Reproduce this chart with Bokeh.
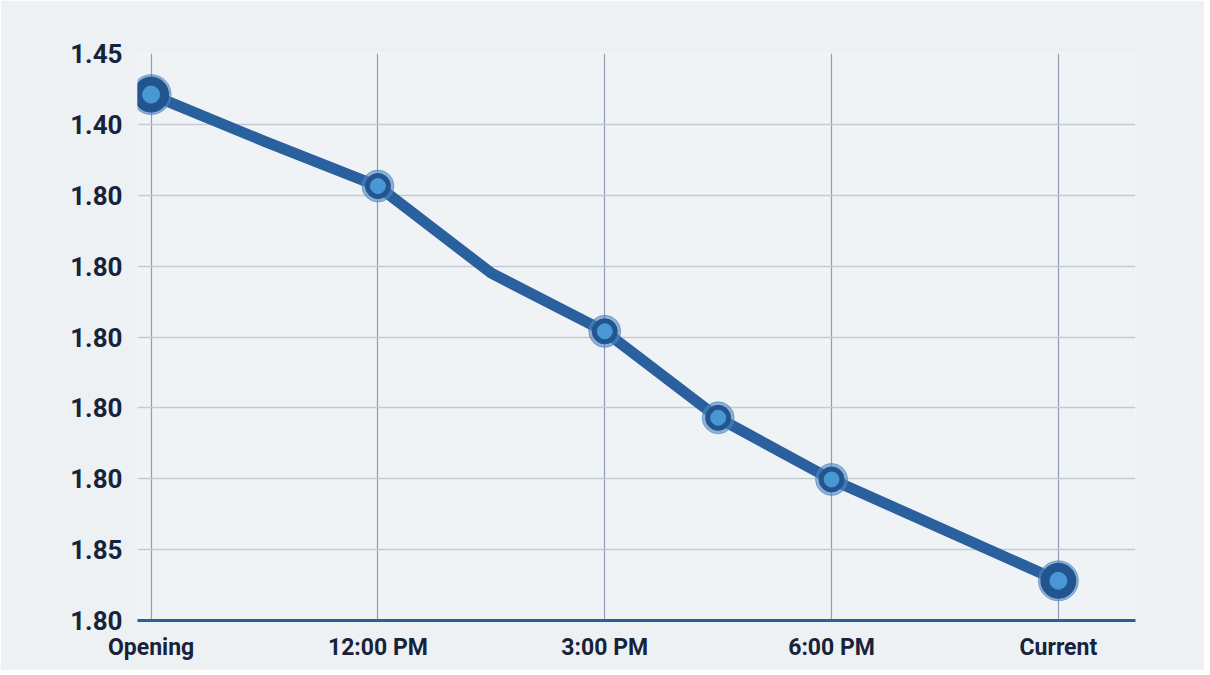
from bokeh.plotting import figure
from bokeh.models import ColumnDataSource, FixedTicker
from bokeh.embed import file_html
from bokeh.resources import INLINE

# Category positions along the x axis and their labels
x_ticks = [0, 1, 2, 3, 4]
x_labels = ["Opening", "12:00 PM", "3:00 PM", "6:00 PM", "Current"]

# Y tick positions (bottom to top) and the labels printed on them
y_ticks = [0, 1, 2, 3, 4, 5, 6, 7, 8]
y_labels = ["1.80", "1.85", "1.80", "1.80", "1.80", "1.80", "1.80", "1.40", "1.45"]

# Line path (includes unmarked bends) and the marked points
line_x = [0, 0.5, 1, 1.5, 2, 2.5, 3, 4]
line_y = [7.42, 6.76, 6.13, 4.90, 4.08, 2.86, 1.99, 0.56]
point_x = [0, 1, 2, 2.5, 3, 4]
point_y = [7.42, 6.13, 4.08, 2.86, 1.99, 0.56]

BG = "#eef1f4"
LINE = "#2a609d"
DARK = "#22558e"
LIGHT = "#4a97d6"
TEXT = "#17233a"

p = figure(width=1204, height=670, x_range=(-0.06, 4.34), y_range=(0, 8),
           output_backend="svg", toolbar_location=None,
           min_border_left=137, min_border_top=53, min_border_right=69, min_border_bottom=50)
p.background_fill_color = "#f0f3f5"
p.border_fill_color = BG
p.outline_line_color = None

# Grid
p.xgrid.ticker = FixedTicker(ticks=x_ticks)
p.ygrid.ticker = FixedTicker(ticks=y_ticks)
p.xgrid.grid_line_color = "#8e9db0"
p.xgrid.grid_line_width = 1.2
p.ygrid.grid_line_color = "#c4cad1"
p.ygrid.grid_line_width = 1.5

# Axes
p.xaxis.ticker = FixedTicker(ticks=x_ticks)
p.xaxis.major_label_overrides = {t: l for t, l in zip(x_ticks, x_labels)}
p.yaxis.ticker = FixedTicker(ticks=y_ticks)
p.yaxis.major_label_overrides = {t: l for t, l in zip(y_ticks, y_labels)}

axis_props = {
    'major_tick_line_color': None,
    'minor_tick_line_color': None,
    'major_label_text_color': TEXT,
    'major_label_text_font': "Roboto",
    'major_label_text_font_style': "bold",
}
p.xaxis.update(**axis_props)
p.yaxis.update(**axis_props)
p.xaxis.axis_line_color = "#2c5f98"
p.xaxis.axis_line_width = 3
p.xaxis.major_label_text_font_size = "23px"
p.xaxis.major_label_standoff = 7
p.yaxis.axis_line_color = None
p.yaxis.major_label_text_font_size = "26px"
p.yaxis.major_label_standoff = 9

src_line = ColumnDataSource(data=dict(x=line_x, y=line_y))
src_pts = ColumnDataSource(data=dict(x=point_x, y=point_y))
src_ends = ColumnDataSource(data=dict(x=[point_x[0], point_x[-1]], y=[point_y[0], point_y[-1]]))

p.line('x', 'y', source=src_line, line_color=LINE, line_width=11,
       line_join="round", line_cap="round")

# Markers: halo, dark ring, light core
p.scatter('x', 'y', source=src_pts, size=32, color="#4d84bf", alpha=0.6)
p.scatter('x', 'y', source=src_pts, size=25, color=DARK)
p.scatter('x', 'y', source=src_ends, size=40, color="#4d84bf", alpha=0.6)
p.scatter('x', 'y', source=src_ends, size=35, color=DARK)
p.scatter('x', 'y', source=src_pts, size=15, color=LIGHT)
p.scatter('x', 'y', source=src_ends, size=17, color=LIGHT)

open("out.html", "w").write(file_html(p, INLINE))
